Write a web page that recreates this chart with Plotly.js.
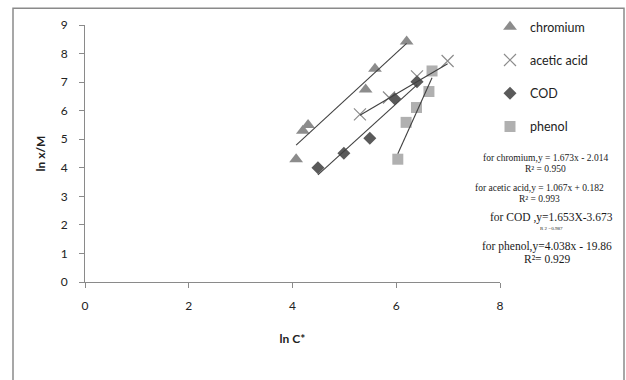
<!DOCTYPE html>
<html>
<head>
<meta charset="utf-8">
<script src="https://cdn.plot.ly/plotly-3.0.1.min.js"></script>
<style>html,body{margin:0;padding:0;background:#fff;}#chart{width:626px;height:380px;}</style>
</head>
<body>
<div id="chart"></div>
<script>
// Data
const seriesNames = ["chromium", "acetic acid", "COD", "phenol"];
const chromiumX = [4.07, 4.2, 4.3, 5.41, 5.59, 6.2];
const chromiumY = [4.3, 5.3, 5.5, 6.74, 7.47, 8.42];
const aceticX = [5.3, 5.86, 6.4, 6.99];
const aceticY = [5.87, 6.46, 7.2, 7.74];
const codX = [4.49, 4.99, 5.49, 5.97, 6.4];
const codY = [4.0, 4.51, 5.03, 6.42, 7.01];
const phenolX = [6.03, 6.19, 6.39, 6.63, 6.69];
const phenolY = [4.3, 5.59, 6.11, 6.67, 7.39];
// Trendline coefficients (from the equations on the chart)
const slopes = [1.673, 1.067, 1.653, 4.038];
const intercepts = [-2.014, 0.182, -3.673, -19.86];
const eqTexts = [
  "for chromium,y = 1.673x - 2.014", "R² = 0.950",
  "for acetic acid,y = 1.067x + 0.182", "R² = 0.993",
  "for COD ,y=1.653X-3.673", "R 2 =0.987",
  "for phenol,y=4.038x - 19.86", "R²= 0.929"
];
const xTicks = [0, 2, 4, 6, 8];
const yTicks = [0, 1, 2, 3, 4, 5, 6, 7, 8, 9];

const xs = [chromiumX, aceticX, codX, phenolX];
const ys = [chromiumY, aceticY, codY, phenolY];
const markerStyles = [
  {symbol: "triangle-up", size: 12, color: "#8c8c8c"},
  {symbol: "x-thin-open", size: 12, color: "#8c8c8c", line: {width: 1.2, color: "#8c8c8c"}},
  {symbol: "diamond", size: 10, color: "#5a5a5a"},
  {symbol: "square", size: 11, color: "#b0b0b0"}
];

const traces = [];
for (let i = 0; i < 4; i++) {
  const m = Object.assign({}, markerStyles[i]);
  if (!m.line) m.line = {width: 0};
  traces.push({
    x: xs[i], y: ys[i], type: "scatter", mode: "markers", name: seriesNames[i],
    legendgroup: "g" + i, marker: m, cliponaxis: false
  });
}
for (let i = 0; i < 4; i++) {
  const x0 = Math.min(...xs[i]), x1 = Math.max(...xs[i]);
  traces.push({
    x: [x0, x1], y: [slopes[i] * x0 + intercepts[i], slopes[i] * x1 + intercepts[i]],
    type: "scatter", mode: "lines", showlegend: false, hoverinfo: "skip",
    line: {color: "#404040", width: 1.1}
  });
}

const W = 415, H = 259; // plot area px
const px = p => (p - 85) / W;
const py = p => (282 - p) / H;
const eqPos = [
  [545, 157, 9.5], [545, 168, 9.5],
  [539, 187, 9.5], [539, 198, 9.5],
  [551, 217, 11.5], [551, 228, 5],
  [547, 246, 11.5], [547, 259, 11.5]
];
const annotations = eqTexts.map((t, k) => ({
  text: t, xref: "paper", yref: "paper", x: px(eqPos[k][0]), y: py(eqPos[k][1]),
  xanchor: "center", yanchor: "middle", showarrow: false,
  font: {family: "Liberation Serif, Times New Roman, serif", size: eqPos[k][2], color: "#1a1a1a"}
}));

const layout = {
  width: 626, height: 380,
  margin: {l: 85, r: 126, t: 23, b: 98},
  paper_bgcolor: "#fff", plot_bgcolor: "#fff",
  font: {family: "Lato, Open Sans, sans-serif", size: 12, color: "#222"},
  showlegend: true,
  legend: {x: px(490), y: py(10), xanchor: "left", yanchor: "top", tracegroupgap: 14,
           font: {family: "Lato, Open Sans, sans-serif", size: 12.5, color: "#222"},
           itemwidth: 30, bgcolor: "rgba(0,0,0,0)"},
  xaxis: {range: [0, 8], tickvals: xTicks, ticktext: xTicks.map(String), showgrid: false, zeroline: false,
          showline: true, linecolor: "#8a8a8a", linewidth: 1, ticks: "outside", ticklen: 5, tickcolor: "#8a8a8a",
          tickfont: {size: 12, color: "#222"}, ticklabelstandoff: 8,
          title: {text: "<b>ln C*</b>", font: {size: 12, color: "#222"}, standoff: 22}},
  yaxis: {range: [0, 9], tickvals: yTicks, showgrid: false, zeroline: false,
          showline: true, linecolor: "#8a8a8a", linewidth: 1, ticks: "outside", ticklen: 5, tickcolor: "#8a8a8a",
          tickfont: {size: 12, color: "#222"}, ticklabelstandoff: 9,
          title: {text: "<b>ln x/M</b>", font: {size: 12, color: "#222"}, standoff: 12}},
  annotations: annotations,
  shapes: [{type: "rect", xref: "paper", yref: "paper", x0: px(13), x1: px(624), y0: py(395), y1: py(6),
            line: {color: "#8a8a8a", width: 1.5}, fillcolor: "rgba(0,0,0,0)", layer: "below"}]
};

Plotly.newPlot("chart", traces, layout, {displayModeBar: false, staticPlot: true});
</script>
</body>
</html>
